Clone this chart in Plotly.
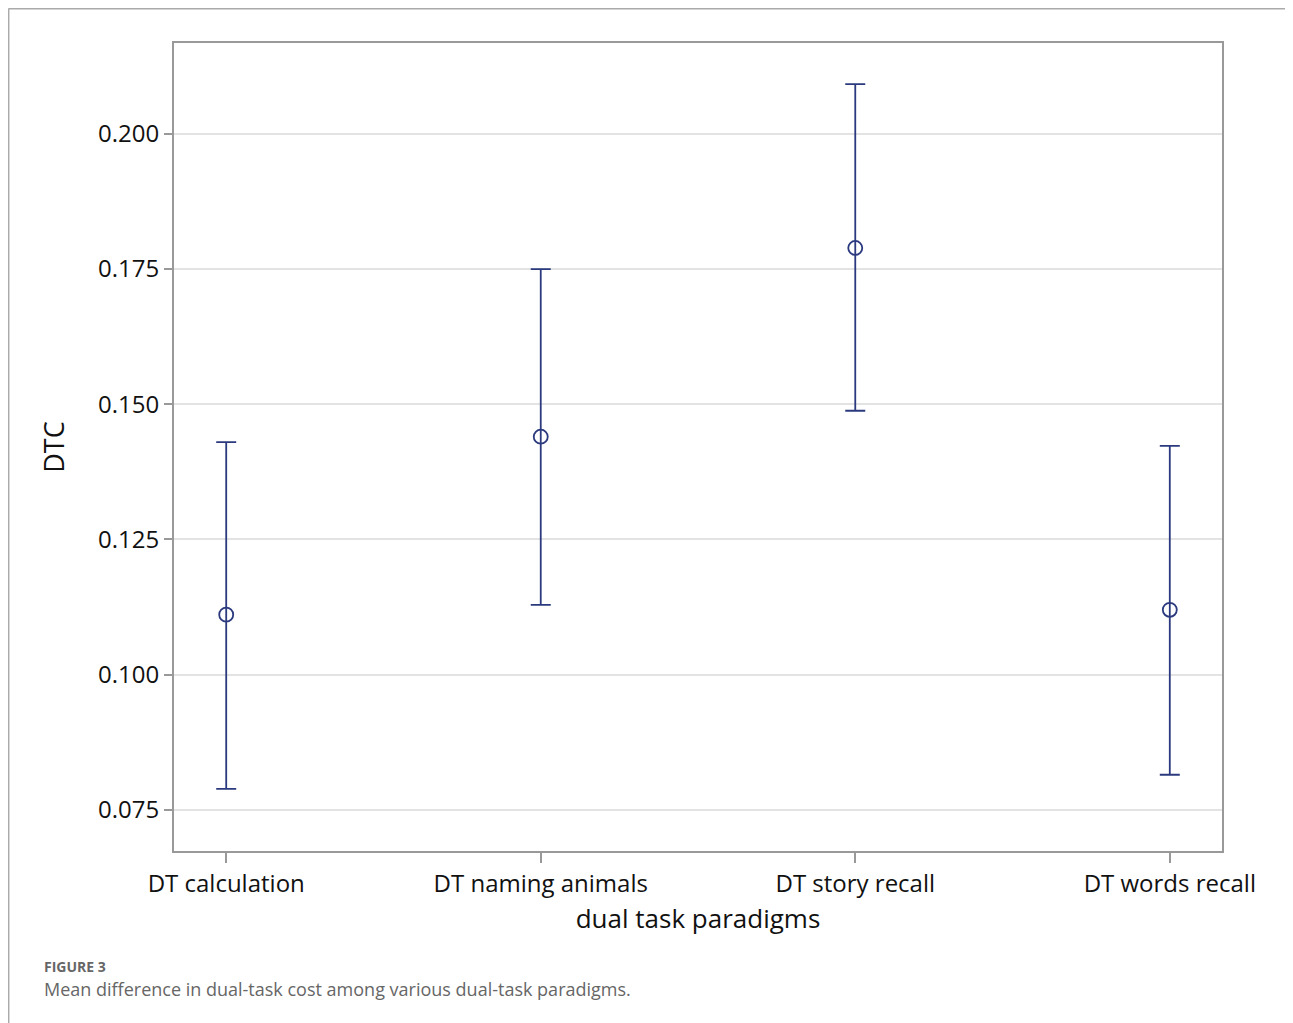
import plotly.graph_objects as go

categories = ["DT calculation", "DT naming animals", "DT story recall", "DT words recall"]
means = [0.1111, 0.1440, 0.1789, 0.1120]
upper = [0.1430, 0.1750, 0.2092, 0.1423]
lower = [0.0789, 0.1129, 0.1488, 0.0815]
y_ticks = [0.075, 0.100, 0.125, 0.150, 0.175, 0.200]
y_tick_labels = ["0.075", "0.100", "0.125", "0.150", "0.175", "0.200"]

color = "#2b3a7e"
# page has an 8px body margin; figure coordinates are page coordinates minus 8
W, H = 1285, 1015
L, R, T, B = 166, 71, 35, 172
pw, ph = W - L - R, H - T - B

def px(x):
    return (x - 8 - L) / pw

def py(y):
    return (H - B - (y - 8)) / ph

fig = go.Figure()
fig.add_trace(go.Scatter(
    x=list(range(len(categories))), y=means, mode="markers",
    marker=dict(symbol="circle-open", size=14, color=color, line=dict(width=1.8, color=color)),
    error_y=dict(type="data", symmetric=False,
                 array=[u - m for u, m in zip(upper, means)],
                 arrayminus=[m - l for m, l in zip(means, lower)],
                 color=color, thickness=1.8, width=10),
    showlegend=False,
))

font = "Open Sans, Noto Sans, DejaVu Sans, sans-serif"
fig.update_layout(
    width=W, height=H,
    margin=dict(l=L, r=R, t=T, b=B),
    paper_bgcolor="white", plot_bgcolor="white",
    font=dict(family=font, color="#111"),
    xaxis=dict(
        tickmode="array", tickvals=list(range(len(categories))), ticktext=categories,
        range=[-0.166, 3.166], showgrid=False, zeroline=False,
        ticks="outside", ticklen=10, tickcolor="#999", tickwidth=2,
        tickfont=dict(size=24, color="#111"),
        showline=True, linecolor="#999", linewidth=2, mirror=True,
        title=dict(text="dual task paradigms", font=dict(size=26, color="#111"), standoff=12),
    ),
    yaxis=dict(
        tickmode="array", tickvals=y_ticks, ticktext=y_tick_labels,
        range=[0.0674, 0.2168], showgrid=True, gridcolor="#e3e3e3", gridwidth=1.5,
        zeroline=False, ticks="outside", ticklen=8, tickcolor="#999", tickwidth=2,
        tickfont=dict(size=24, color="#111"),
        showline=True, linecolor="#999", linewidth=2, mirror=True,
        title=dict(text="DTC", font=dict(size=27, color="#111"), standoff=26),
    ),
)

# outer page frame (top and left lines)
fig.add_shape(type="line", xref="paper", yref="paper", x0=px(8.5), x1=px(W + 8), y0=py(8.7), y1=py(8.7),
              line=dict(color="#aaa", width=1.5))
fig.add_shape(type="line", xref="paper", yref="paper", x0=px(8.7), x1=px(8.7), y0=py(8.5), y1=py(H + 8),
              line=dict(color="#aaa", width=1.5))

fig.add_annotation(text="<b>FIGURE 3</b>", xref="paper", yref="paper", x=px(42), y=py(966),
                   xanchor="left", yanchor="middle", showarrow=False,
                   font=dict(size=14, color="#666", family=font))
fig.add_annotation(text="Mean difference in dual-task cost among various dual-task paradigms.",
                   xref="paper", yref="paper", x=px(42), y=py(989),
                   xanchor="left", yanchor="middle", showarrow=False,
                   font=dict(size=18, color="#666", family=font))

fig.write_html("out.html")
